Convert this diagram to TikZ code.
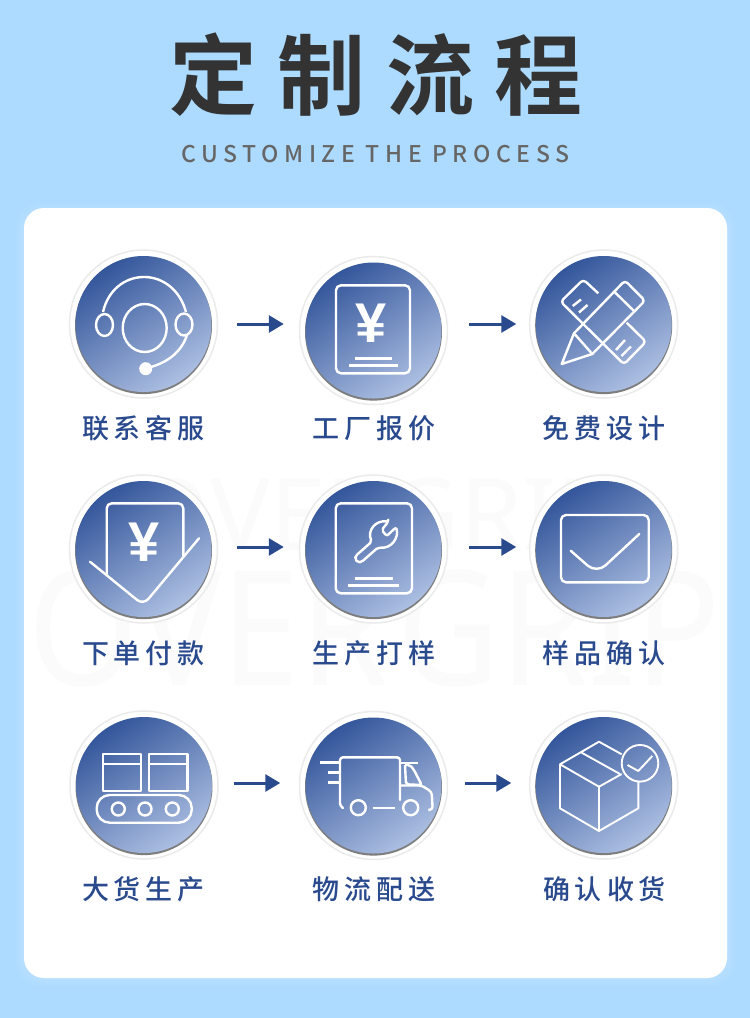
\documentclass[tikz,border=0pt]{standalone}
\usepackage{fontspec}
\usetikzlibrary{arrows.meta}
\newfontfamily\labfont[LetterSpace=18.5]{Noto Sans CJK SC Medium}
\newfontfamily\titlefont[LetterSpace=23]{Noto Sans CJK SC Bold}
\newfontfamily\subfont[LetterSpace=24]{Noto Sans CJK SC Medium}
\newfontfamily\yenfont{Liberation Sans Bold}
\newfontfamily\wmfont{Noto Sans}
\definecolor{bgblue}{HTML}{ADDBFF}
\definecolor{navy}{HTML}{2A4A8E}
\definecolor{wm}{HTML}{FBFBFB}
\definecolor{discA}{HTML}{34569B}
\definecolor{discB}{HTML}{ACBFE2}
\tikzset{
  ringnode/.style={circle,minimum size=148pt,inner sep=0pt,fill=white,draw=black!8,line width=1.5pt},
  shadownode/.style={circle,minimum size=137pt,inner sep=0pt,fill=black!68,opacity=.75},
  discnode/.style={circle,minimum size=136pt,inner sep=0pt,shading=axis,top color=discA,bottom color=discB,shading angle=34},
  labelnode/.style={anchor=base,text=navy,font=\labfont\fontsize{27}{27}\selectfont,inner sep=0pt},
  flow/.style={draw=navy,line width=3pt,-{Triangle[length=15pt,width=17pt]}},
  icon/.style={draw=white,line width=2.4pt,line join=round,fill=none},
  thinicon/.style={draw=white,line width=1.9pt,line join=round,fill=none},
  rule/.style={draw=white,line width=3pt},
  yennode/.style={text=white,font=\yenfont\fontsize{56}{56}\selectfont,inner sep=0pt},
}
\begin{document}
\begin{tikzpicture}[x=1pt,y=-1pt]
\useasboundingbox (0,0) rectangle (750,1018);
\fill[bgblue] (0,0) rectangle (750,1018);
% card with soft glow
\foreach \g/\o in {8/.04,5/.05,2/.08}
  \fill[white,opacity=\o,rounded corners=24pt] (24-\g,208-\g+3) rectangle (727+\g,978+\g);
\fill[white,rounded corners=20pt] (24,208) rectangle (727,978);
% watermark
\node[text=wm,font=\wmfont\bfseries\fontsize{160}{160}\selectfont,anchor=base,inner sep=0pt,xscale=.88,transform shape] (wmbig) at (375,685) {OVER\kern-30pt{} GRIP};
\node[text=wm,font=\wmfont\bfseries\fontsize{100}{100}\selectfont,anchor=base,inner sep=0pt] (wmsmall) at (375,550) {OVERGRIP};
% title
\node[anchor=base,text=black!80,inner sep=0pt,font=\titlefont\fontsize{88}{88}\selectfont] (title) at (376,108.5) {定制流程};
\node[anchor=base,text=black!60,inner sep=0pt,font=\subfont\fontsize{23}{23}\selectfont] (subtitle) at (375.5,162) {CUSTOMIZE THE PROCESS};
% discs
\foreach \n/\x/\y in {1/143.5/324,2/373.5/330.5,3/603.7/324,4/143.5/549,5/373.5/549,6/603.7/549,7/144/785,8/373.5/785.5,9/603.7/785}{
  \node[ringnode] (r\n) at (\x,\y) {};
  \node[shadownode] (s\n) at (\x,\y+1.6) {};
  \node[discnode] (d\n) at (\x,\y) {};
}
% labels
\foreach \n/\x/\y/\t in {1/143.5/438/联系客服,2/374/438/工厂报价,3/604/438/免费设计,4/143.5/663/下单付款,5/374/663/生产打样,6/604/663/样品确认,7/143.5/899/大货生产,8/374/899/物流配送,9/604.5/899/确认收货}
  \node[labelnode] (lab\n) at (\x,\y) {\t};
% arrows
\draw[flow,shorten <=18.5pt,shorten >=15pt] (r1.east) -- (r1.east -| r2.west);
\draw[flow,shorten <=21pt,shorten >=12.7pt] (r2.east |- r3.west) -- (r3.west);
\draw[flow,shorten <=18.5pt,shorten >=15pt] ([yshift=2pt]r4.east) -- ([yshift=2pt]r5.west);
\draw[flow,shorten <=21pt,shorten >=12.7pt] ([yshift=2pt]r5.east) -- ([yshift=2pt]r6.west);
\draw[flow,shorten <=15pt,shorten >=18.5pt] ([yshift=2pt]r7.east) -- ([yshift=2pt]r7.east -| r8.west);
\draw[flow,shorten <=16.5pt,shorten >=17.7pt] ([yshift=2.5pt]r8.east) -- ([yshift=2.5pt]r8.east -| r9.west);
% icon 1 headset
\draw[icon] (144.7,328) circle[x radius=22,y radius=24];
\draw[icon] (104.5,325) circle[x radius=8.5,y radius=11];
\draw[icon] (184,324.5) circle[x radius=8.5,y radius=11];
\draw[icon] (103,312) .. controls (108,290) and (125,277) .. (144,277) .. controls (163,277) and (180,290) .. (186,312);
\draw[icon] (186.7,336) .. controls (181,352) and (168,362) .. (151,367);
\fill[white] (145.7,368.7) circle[radius=6.5];
% icon 2 quote
\draw[icon,rounded corners=5pt] (336,285.3) rectangle (410,373.3);
\node[yennode] (yen2) at (371,323) {¥};
\draw[rule] (355,358.3) -- (391.7,358.3);
\draw[rule] (349,365.3) -- (398.3,365.3);
% icon 3 pencil and ruler
\draw[icon,rounded corners=3.5pt] (598.3,293.3) -- (583.3,279.5) -- (560.7,301.7) -- (624,364.3) -- (646,341.7) -- (626.7,322.7);
\draw[icon] (572.7,306) -- (581,299.5);
\draw[icon] (579,312.5) -- (587.5,305);
\draw[icon] (616,350) -- (625,340);
\draw[icon] (621.5,356) -- (631,346.5);
\draw[icon,rounded corners=3.5pt] (574,333.3) -- (625,280.5) -- (645,300.7) -- (592.3,354);
\draw[icon] (574,333.3) -- (561.7,364) -- (592.3,354) -- cycle;
\draw[icon] (614.3,291.7) -- (634,311);
% icon 4 payment
\draw[icon,rounded corners=5pt] (106.7,574.5) -- (106.7,503.3) -- (183.3,503.3) -- (183.3,556.4);
\draw[icon,line cap=round,rounded corners=8pt] (90,561.7) -- (143.3,605) -- (199,538.3);
\node[yennode] (yen4) at (144.5,542.5) {¥};
% icon 5 wrench
\draw[icon,rounded corners=5pt] (335.7,503.3) rectangle (412,593.3);
\draw[rule] (355,578.3) -- (392.7,578.3);
\draw[rule] (347.7,585.7) -- (399,585.7);
\draw[icon,rounded corners=2pt] (388.3,521.7) -- (381.7,530) -- (386.7,536) -- (396,527.3) .. controls (399,537) and (392,549) .. (378,547.5) -- (361.5,562) -- (358,562.5) -- (355,559) -- (355.5,556) -- (371.7,541.7) .. controls (367,530) and (376,520) .. (388.3,521.7) -- cycle;
% icon 6 envelope
\draw[icon,rounded corners=5pt] (561,515) rectangle (648.7,582.3);
\draw[icon,line cap=round,rounded corners=12pt] (570.7,550.7) -- (596.7,573.5) -- (639.3,534);
% icon 7 conveyor
\draw[icon] (102.7,754) rectangle (140.7,790.7);
\draw[icon] (102.7,764) -- (140.7,764);
\draw[icon] (149,754) rectangle (187.3,790.7);
\draw[icon] (149,764) -- (187.3,764);
\draw[icon,rounded corners=13pt] (96.7,795) rectangle (191.7,822.7);
\foreach \cx in {118.3,145,172.3}
  \draw[icon] (\cx,809) circle[radius=6.5];
% icon 8 truck
\draw[icon,line cap=round,rounded corners=3pt] (343,808) -- (340,806) -- (340,757.3) -- (400,757.3) -- (400,800);
\draw[icon] (320,762.3) -- (340,762.3);
\draw[rule] (327.7,772.7) -- (340,772.7);
\draw[rule] (327.7,782.3) -- (340,782.3);
\draw[icon] (372.7,807.7) -- (395,807.7);
\draw[icon] (358.3,807.7) circle[radius=7.5];
\draw[icon] (410.7,807.7) circle[radius=7.5];
\draw[icon] (400,762.7) -- (418.3,762.7);
\draw[icon,rounded corners=2pt] (405,765) -- (406,784.3) -- (421.7,785) -- (414,770) -- (410,765) -- (405,765);
\draw[icon,rounded corners=3pt] (400,785.5) -- (421.7,785.5) -- (431.7,792) -- (432.7,809.5) -- (428.3,810);
% icon 9 parcel
\draw[thinicon] (621.7,754.3) -- (599,741.7) -- (560,764.3) -- (599,786.7) -- (621.7,774);
\draw[thinicon] (581.7,752.7) -- (620,774);
\draw[thinicon] (560,764.3) -- (560,808.3) -- (599,831) -- (638.3,808.3) -- (638.3,781);
\draw[thinicon] (599,786.7) -- (599,831);
\draw[thinicon] (640,763.3) circle[radius=18.3];
\draw[thinicon] (627.5,765) -- (638.3,771) -- (652.3,756);
\end{tikzpicture}
\end{document}
